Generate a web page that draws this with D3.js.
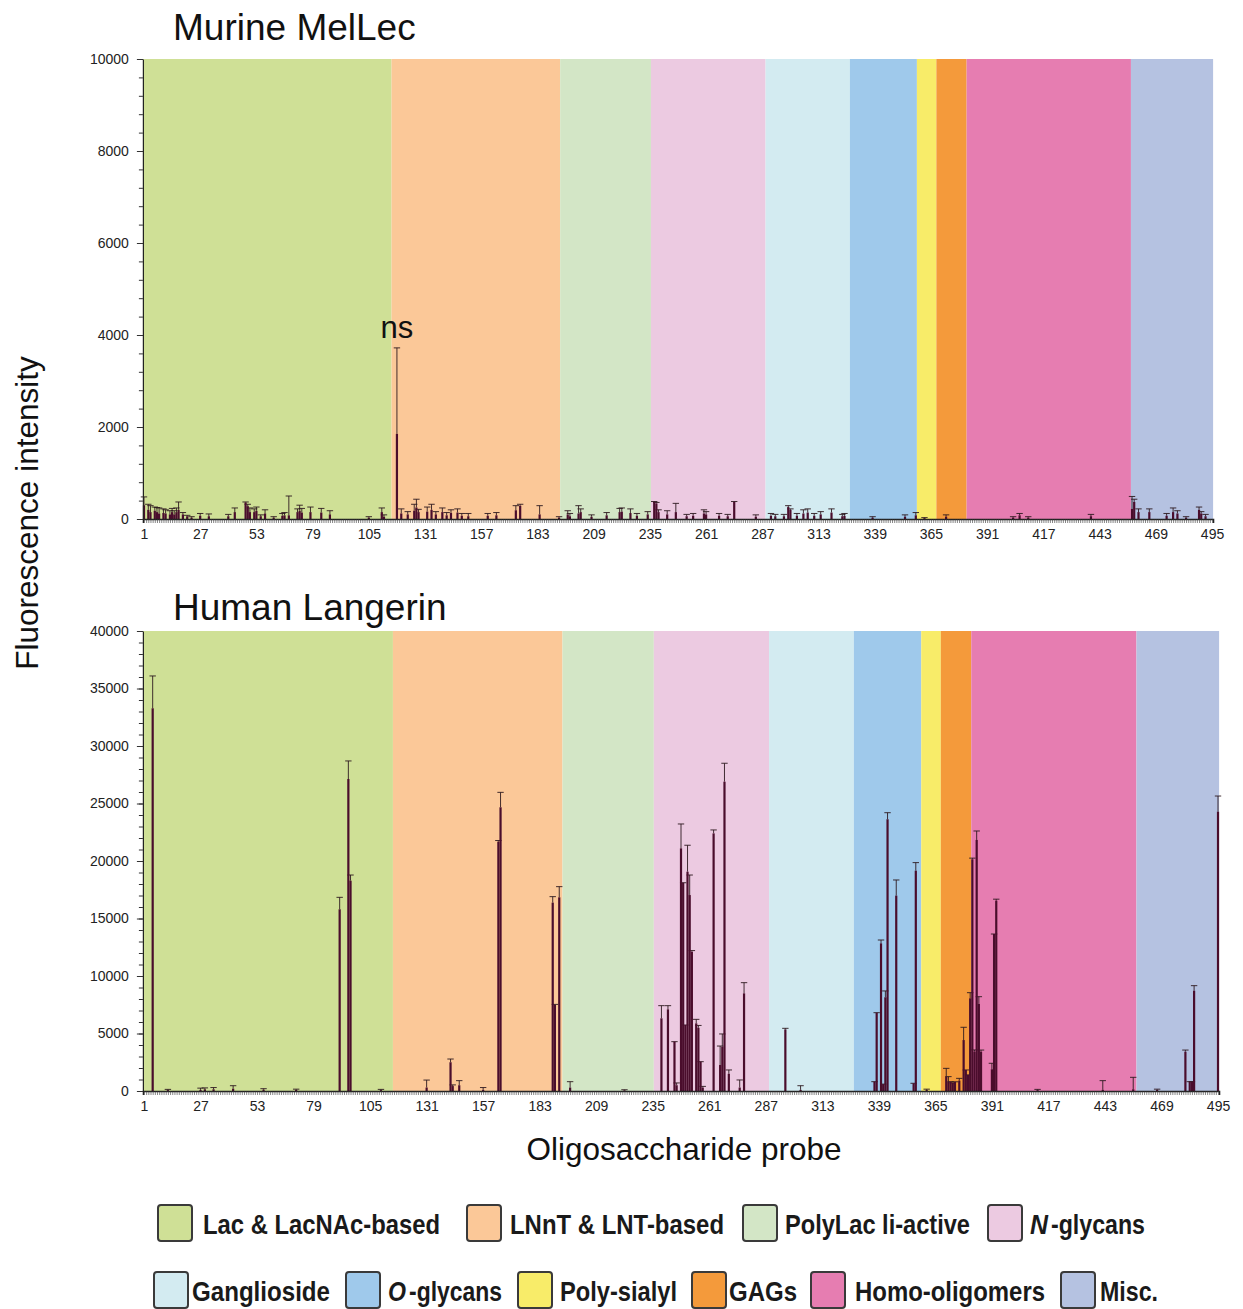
<!DOCTYPE html>
<html>
<head>
  <meta charset="utf-8">
  <title>Glycan array: Murine MelLec / Human Langerin</title>
  <style>
    body { margin: 0; background: #fff; font-family: "Liberation Sans", Arial, Helvetica, sans-serif; }
    svg { display: block; }
    .tick text { font-family: "Liberation Sans", Arial, sans-serif; font-size: 14px; fill: #222; }
  </style>
</head>
<body>
<svg id="chart" width="1243" height="1309"></svg>
<script src="https://cdn.jsdelivr.net/npm/d3@7"></script>
<script>
  // probe groups (first / last probe number of each coloured block)
  var categoryNames = ["Lac & LacNAc-based", "LNnT & LNT-based", "PolyLac li-active", "N-glycans",
    "Ganglioside", "O-glycans", "Poly-sialyl", "GAGs", "Homo-oligomers", "Misc."];
  var categoryStart = [1, 116, 194, 236, 289, 328, 359, 368, 382, 458];
  var categoryEnd   = [115, 193, 235, 288, 327, 358, 367, 381, 457, 495];
  var categoryColors = ["#cfe096", "#fbc898", "#d3e6c6", "#eccae1", "#d3ebf1",
    "#9fc9eb", "#f8ec69", "#f49a3b", "#e67db1", "#b5c2e1"];

  var xTickLabels = [1, 27, 53, 79, 105, 131, 157, 183, 209, 235, 261, 287, 313, 339, 365, 391, 417, 443, 469, 495];

  // Murine MelLec: probe, mean fluorescence, SD (probes not listed are ~0)
  var mellecProbe = [1, 3, 4, 6, 7, 8, 10, 11, 13, 14, 15, 16, 17, 19, 21, 23, 27, 31, 40, 43,
    48, 49, 50, 52, 53, 55, 57, 61, 65, 66, 68, 72, 73, 74, 78, 83, 87, 105, 111, 112,
    118, 120, 123, 126, 127, 128, 132, 134, 136, 139, 141, 143, 146, 148, 151, 160, 164, 173, 175, 184,
    193, 197, 198, 202, 203, 208, 215, 221, 222, 226, 229, 234, 237, 238, 239, 243, 247, 252, 255, 260,
    261, 267, 271, 274, 284, 291, 293, 297, 299, 300, 303, 306, 308, 311, 314, 319, 324, 325, 338, 353,
    358, 362, 372, 403, 406, 410, 439, 458, 459, 461, 466, 474, 477, 479, 483, 489, 490, 492];
  var mellecValue = [300, 200, 150, 180, 150, 120, 130, 120, 100, 150, 100, 150, 200, 100, 60, 30, 70, 60, 60, 150,
    360, 280, 150, 150, 180, 60, 120, 30, 70, 80, 80, 150, 180, 140, 150, 140, 100, 30, 150, 50,
    1850, 120, 100, 180, 250, 150, 160, 200, 100, 150, 80, 130, 140, 70, 60, 70, 80, 190, 290, 100,
    30, 100, 60, 120, 150, 50, 80, 150, 160, 130, 70, 100, 370, 340, 150, 100, 150, 60, 70, 120,
    100, 70, 60, 370, 50, 70, 60, 60, 260, 200, 70, 120, 140, 70, 100, 140, 60, 70, 30, 50,
    80, 20, 50, 30, 80, 30, 60, 220, 370, 150, 150, 70, 150, 120, 30, 200, 120, 60];
  var mellecSD = [180, 120, 140, 80, 100, 120, 90, 80, 80, 80, 80, 90, 170, 40, 20, 20, 50, 50, 40, 90,
    10, 40, 90, 70, 80, 30, 80, 20, 50, 60, 420, 70, 120, 90, 110, 90, 80, 20, 90, 40,
    1870, 100, 60, 140, 180, 60, 100, 120, 60, 90, 60, 70, 80, 50, 60, 50, 60, 100, 30, 190,
    20, 80, 60, 170, 70, 40, 60, 80, 80, 90, 50, 60, 10, 20, 50, 80, 190, 40, 50, 80,
    60, 50, 40, 10, 40, 50, 40, 40, 30, 20, 50, 80, 80, 50, 60, 80, 40, 50, 20, 40,
    60, 10, 40, 20, 40, 20, 40, 270, 60, 70, 70, 50, 90, 60, 20, 60, 40, 40];

  // Human Langerin: probe, mean fluorescence, SD
  var langerinProbe = [5, 12, 27, 29, 33, 42, 56, 71, 91, 95, 96, 110, 131, 142, 143, 146, 157, 164, 165, 189,
    190, 192, 197, 222, 239, 242, 245, 246, 248, 249, 250, 251, 252, 253, 255, 256, 257, 258, 263, 266,
    267, 268, 270, 275, 277, 296, 303, 337, 338, 340, 341, 342, 343, 347, 355, 356, 361, 370, 371, 372,
    373, 374, 376, 378, 379, 380, 381, 382, 383, 384, 385, 386, 391, 392, 393, 412, 442, 456, 467, 480,
    482, 483, 484, 495];
  var langerinValue = [33280, 80, 100, 150, 150, 200, 120, 100, 15800, 27130, 18290, 80, 300, 2500, 430, 500, 100, 21680, 24670, 16380,
    7480, 16840, 300, 60, 6320, 7100, 4290, 500, 21100, 18110, 5740, 19070, 17040, 12110, 5880, 5500, 2550, 300, 22400, 2260,
    3850, 26900, 1500, 300, 8490, 5360, 100, 810, 6810, 12840, 600, 8150, 23630, 16990, 670, 19160, 100, 1250, 800, 810,
    700, 800, 900, 4430, 1830, 1400, 8060, 20150, 3420, 21830, 7570, 3420, 1890, 13650, 16550, 80, 100, 150, 100, 3420,
    810, 810, 8720, 24290];
  var langerinSD = [2810, 60, 150, 120, 150, 260, 80, 60, 1040, 1570, 490, 60, 650, 280, 100, 400, 200, 100, 1300, 520,
    50, 930, 510, 50, 1100, 320, 0, 200, 2120, 0, 0, 2300, 1740, 100, 350, 200, 0, 100, 300, 1650,
    1110, 1600, 330, 660, 930, 90, 360, 0, 0, 290, 0, 550, 570, 1360, 0, 700, 60, 720, 450, 0,
    0, 0, 200, 1110, 0, 0, 490, 100, 150, 780, 630, 140, 520, 0, 130, 60, 800, 1040, 60, 140,
    0, 0, 440, 1360];

  var svg = d3.select("#chart");
  var barColor = "#4a0d2c";
  var errColor = "#2e1a1f";

  function drawPanel(opt) {
    var g = svg.append("g");
    var x = d3.scaleLinear().domain([0.5, 495.5]).range([opt.left, opt.right]);
    var y = d3.scaleLinear().domain([0, opt.yMax]).range([opt.bottom, opt.top]);

    // coloured category blocks
    g.append("g").selectAll("rect")
      .data(categoryNames)
      .join("rect")
      .attr("x", (d, i) => x(categoryStart[i] - 0.5))
      .attr("width", (d, i) => x(categoryEnd[i] + 0.5) - x(categoryStart[i] - 0.5))
      .attr("y", y(opt.yMax))
      .attr("height", y(0) - y(opt.yMax))
      .attr("fill", (d, i) => categoryColors[i]);

    var rows = opt.probe.map((p, i) => ({ p: p, v: opt.value[i], sd: opt.sd[i] }));
    var bw = 2.2;

    // error bars (drawn first so the bar covers the lower part)
    var eb = g.append("g").attr("stroke", errColor).attr("stroke-width", 0.9);
    eb.selectAll("line.v")
      .data(rows.filter(d => d.sd > 0))
      .join("line")
      .attr("class", "v")
      .attr("x1", d => x(d.p)).attr("x2", d => x(d.p))
      .attr("y1", d => y(d.v)).attr("y2", d => y(d.v + d.sd));
    eb.selectAll("line.c")
      .data(rows)
      .join("line")
      .attr("class", "c")
      .attr("x1", d => x(d.p) - 3.2).attr("x2", d => x(d.p) + 3.2)
      .attr("y1", d => y(d.v + d.sd)).attr("y2", d => y(d.v + d.sd));

    g.append("g").selectAll("rect")
      .data(rows)
      .join("rect")
      .attr("x", d => x(d.p) - bw / 2)
      .attr("width", bw)
      .attr("y", d => y(d.v))
      .attr("height", d => y(0) - y(d.v))
      .attr("fill", barColor);

    // x axis: a tick for every probe, a label every 26
    var xAxis = d3.axisBottom(x)
      .tickValues(d3.range(1, 496))
      .tickSize(4)
      .tickFormat(d => xTickLabels.indexOf(d) >= 0 ? d : "");
    var xg = g.append("g")
      .attr("transform", "translate(0," + y(0) + ")")
      .call(xAxis);
    xg.select(".domain").attr("stroke", "#222").attr("stroke-width", 1.4);
    xg.selectAll(".tick line").attr("stroke", "#333").attr("stroke-width", 0.6);
    xg.selectAll(".tick text").attr("dy", "0.95em");

    // y axis with minor ticks
    var majors = d3.range(0, opt.yMax + 1, opt.yStep);
    var minors = d3.range(0, opt.yMax + 1, opt.yStep / 5);
    var ym = g.append("g").attr("transform", "translate(" + opt.left + ",0)")
      .call(d3.axisLeft(y).tickValues(minors).tickSize(4).tickFormat(""));
    ym.select(".domain").remove();
    ym.selectAll(".tick line").attr("stroke", "#333");
    var yg = g.append("g").attr("transform", "translate(" + opt.left + ",0)")
      .call(d3.axisLeft(y).tickValues(majors).tickSize(6).tickPadding(8).tickSizeOuter(0)
        .tickFormat(d3.format("d")));
    yg.select(".domain").attr("stroke", "#222").attr("stroke-width", 1.2);
    yg.selectAll(".tick line").attr("stroke", "#333");

    g.append("text")
      .attr("x", 173)
      .attr("y", opt.titleY)
      .attr("font-size", 37)
      .attr("fill", "#111")
      .text(opt.title);

    return { x: x, y: y, g: g };
  }

  var melPanel = drawPanel({
    title: "Murine MelLec", titleY: 40,
    left: 142.9, right: 1213.1, top: 59, bottom: 519,
    yMax: 10000, yStep: 2000,
    probe: mellecProbe, value: mellecValue, sd: mellecSD
  });

  // "ns" over probe 118
  var nsIdx = mellecProbe.indexOf(118);
  melPanel.g.append("text")
    .attr("x", melPanel.x(118))
    .attr("y", melPanel.y(mellecValue[nsIdx] + mellecSD[nsIdx]) - 10)
    .attr("text-anchor", "middle")
    .attr("font-size", 31)
    .attr("fill", "#111")
    .text("ns");

  drawPanel({
    title: "Human Langerin", titleY: 620,
    left: 142.9, right: 1219.1, top: 631, bottom: 1091,
    yMax: 40000, yStep: 5000,
    probe: langerinProbe, value: langerinValue, sd: langerinSD
  });

  // shared axis titles
  svg.append("text")
    .attr("transform", "translate(38,513) rotate(-90)")
    .attr("text-anchor", "middle")
    .attr("font-size", 31.5)
    .attr("fill", "#111")
    .text("Fluorescence intensity");

  svg.append("text")
    .attr("x", 684)
    .attr("y", 1160)
    .attr("text-anchor", "middle")
    .attr("font-size", 31.5)
    .attr("fill", "#111")
    .text("Oligosaccharide probe");

  // legend layout: box left edge, row, text left edge and text width per category
  var legendBoxX  = [158, 467, 743, 988, 154, 346, 518, 692, 811, 1061];
  var legendRow   = [0, 0, 0, 0, 1, 1, 1, 1, 1, 1];
  var legendTextX = [203, 510, 785, 1030, 192, 388, 560, 729, 855, 1100];
  var legendTextW = [237, 214, 185, 115, 138, 114, 117, 68, 190, 58];
  var legendRowY = [1205, 1272];
  var italicW = 18;   // width of the italic leading letter in N-/O-glycans

  function legendText(x, y, w, str, italic) {
    return svg.append("text")
      .attr("x", x)
      .attr("y", y)
      .attr("font-weight", "bold")
      .attr("font-style", italic ? "italic" : null)
      .attr("font-size", 28)
      .attr("textLength", w)
      .attr("lengthAdjust", "spacingAndGlyphs")
      .attr("fill", "#1a1a1a")
      .text(str);
  }

  categoryNames.forEach(function (name, ci) {
    var y0 = legendRowY[legendRow[ci]];
    svg.append("rect")
      .attr("x", legendBoxX[ci]).attr("y", y0)
      .attr("width", 34).attr("height", 36)
      .attr("rx", 3)
      .attr("fill", categoryColors[ci])
      .attr("stroke", "#3a3a3a")
      .attr("stroke-width", 2);
    if (name === "N-glycans" || name === "O-glycans") {
      legendText(legendTextX[ci], y0 + 29, italicW, name[0], true);
      legendText(legendTextX[ci] + italicW + 3, y0 + 29, legendTextW[ci] - italicW - 3, name.slice(1), false);
    } else {
      legendText(legendTextX[ci], y0 + 29, legendTextW[ci], name, false);
    }
  });
</script>
</body>
</html>
